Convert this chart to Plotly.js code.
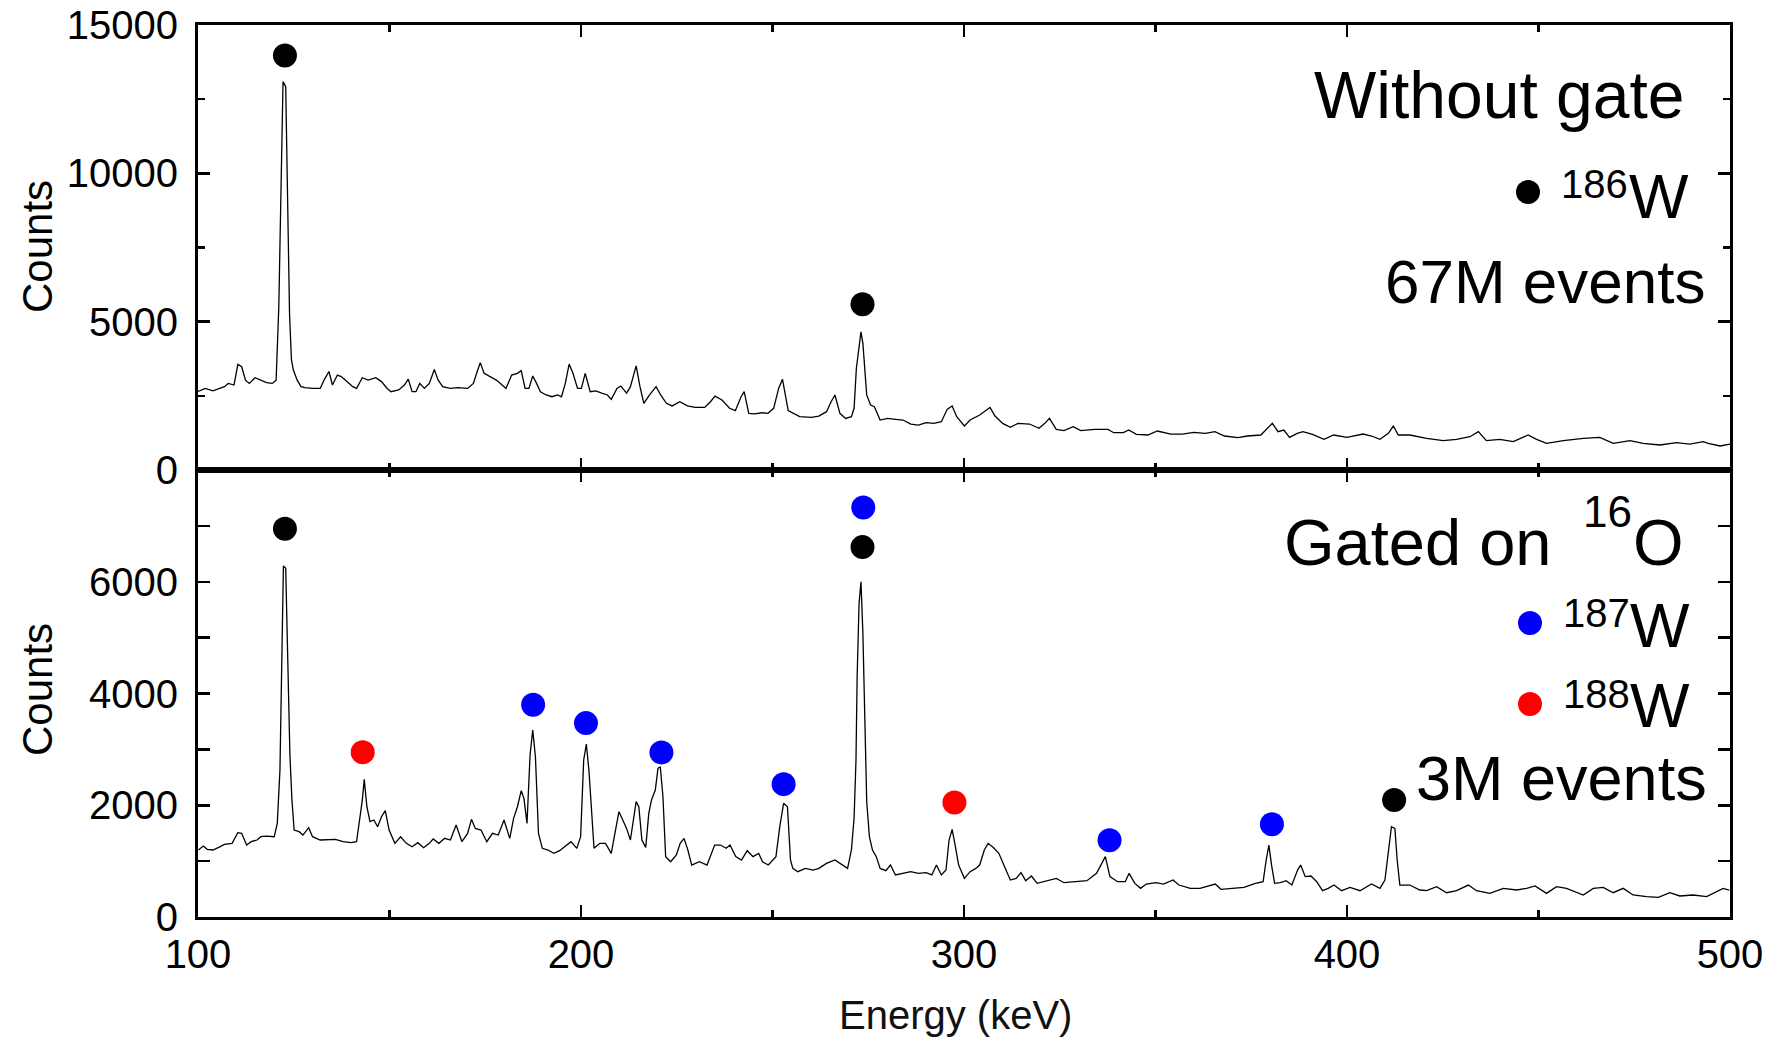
<!DOCTYPE html>
<html>
<head>
<meta charset="utf-8">
<script src="https://cdn.plot.ly/plotly-3.0.1.min.js"></script>
<style>
html,body{margin:0;padding:0;background:#fff;}
#chart{width:1780px;height:1043px;}
</style>
</head>
<body>
<div id="chart"></div>
<script>
// ---------- Data ----------
// Top panel: without gate (energy in keV, counts)
const topEnergy = [100,101.9,103.9,106.9,107.9,109.4,110.4,111.4,112.4,113.4,114.9,116.4,117.9,119.4,120.4,121.1,121.7,122.2,122.9,123.4,123.9,124.4,124.9,125.9,126.9,127.9,129.9,131.9,132.9,134.2,135.1,136.4,137.4,138.9,140.4,141.4,142.9,144.4,146.4,147.9,149.4,150.4,152.4,153.9,154.9,155.9,156.9,157.9,159.1,160.4,161.7,162.7,163.9,165.9,167.9,170.4,171.9,172.9,173.7,174.7,176.4,177.9,179.4,180.4,181.9,183.4,184.4,185.4,186.4,187.4,188.4,189.4,190.9,192.4,193.9,194.9,195.9,196.9,197.9,199.1,200.1,201.1,202.4,203.9,205.4,206.9,207.9,209.4,210.4,211.9,212.9,214.4,215.4,216.4,217.9,219.6,220.8,222.3,223.8,225.8,227.8,229.8,232.3,233.8,235.0,236.8,238.8,240.3,241.8,242.6,243.8,245.3,247.3,248.8,250.3,251.6,252.6,254.1,257.1,260.1,262.1,264.1,265.3,266.3,267.6,269.1,270.6,271.3,271.9,272.6,273.1,273.6,274.1,274.6,275.6,276.6,278.1,280.1,282.1,284.1,286.1,288.1,290.1,292.1,294.1,295.6,296.9,298.1,300.1,301.6,304.1,305.6,306.8,308.1,310.1,312.1,314.1,317.1,319.6,321.1,322.3,324.1,326.1,328.5,330.5,334.1,337.6,339.1,341.6,343.0,345.0,348.0,350.5,354.0,357.0,360.0,363.0,365.5,368.0,371.5,374.0,377.5,379.5,380.5,382.0,383.5,385.0,387.0,388.5,391.0,394.0,396.5,400.0,404.2,406.4,408.6,410.8,412.1,413.4,416.4,420.8,425.1,428.6,432.1,434.3,436.4,439.9,443.4,447.3,449.5,452.1,456.5,461.7,466.0,469.5,473.9,477.3,481.7,486.0,489.5,493.0,494.3,497.4,500];
const topCounts = [2650,2750,2670,2810,2920,2865,3560,3480,3030,2920,3110,3030,2945,2920,3030,5500,9350,13090,12920,8970,5260,3710,3370,3030,2810,2780,2750,2750,3030,3320,2865,3200,3150,2980,2810,2750,3110,3030,3110,2980,2750,2640,2700,2865,3060,2640,2640,2920,2750,2920,3390,3030,2810,2750,2780,2750,2920,3320,3620,3260,3150,3030,2865,2750,3200,3260,3350,2750,2750,3170,2920,2640,2530,2470,2530,2470,2920,3570,3260,2750,2750,3260,2640,2670,2590,2530,2380,2750,2830,2590,2810,3510,2810,2250,2530,2810,2530,2250,2160,2300,2160,2110,2110,2300,2490,2360,2080,2000,2470,2640,1910,1890,1930,1910,2080,2750,3060,2000,1800,1775,1820,1966,2300,2530,1910,1740,1800,2080,3430,4210,4660,4270,3370,2530,2190,2135,1685,1740,1710,1685,1550,1516,1595,1573,1629,2045,2157,1797,1483,1685,1854,2000,2112,1820,1573,1438,1573,1550,1405,1573,1742,1371,1326,1461,1326,1371,1371,1258,1258,1348,1202,1180,1315,1213,1213,1270,1236,1292,1146,1090,1146,1180,1461,1573,1292,1348,1101,1236,1292,1202,1034,1180,1101,1213,1146,1034,1236,1483,1180,1180,1067,989,1034,1123,1292,989,1034,955,1180,1034,899,989,1067,1101,899,989,899,843,921,876,955,899,810,876];

// Bottom panel: gated on 16O
const botEnergy = [100.1,101.4,102.4,103.9,105.4,106.9,108.9,110.4,111.4,112.7,113.9,115.4,116.4,117.9,119.9,120.7,121.4,121.9,122.3,122.9,123.4,124.0,124.5,125.1,126.4,127.4,128.9,129.9,131.9,133.9,135.9,137.9,139.9,141.4,142.1,142.9,143.4,144.1,144.9,145.9,146.9,147.9,148.9,149.9,151.4,152.9,154.4,155.9,157.4,158.9,160.4,161.4,162.9,164.4,165.9,167.4,168.9,170.4,171.4,172.4,173.9,175.4,176.9,178.4,179.9,181.4,182.4,183.4,184.4,185.1,185.9,186.7,187.4,188.1,188.9,189.9,191.4,192.9,194.4,195.9,197.4,198.9,199.9,200.7,201.4,202.1,202.7,203.4,204.9,206.4,207.9,209.1,209.9,210.9,211.9,212.9,213.9,214.4,215.1,215.9,216.9,217.7,218.4,219.4,220.1,220.7,221.4,222.1,223.4,224.9,225.9,226.9,227.9,228.9,230.9,232.9,234.9,236.4,237.9,238.9,240.4,241.9,243.4,244.9,246.4,247.4,248.9,250.9,251.9,252.9,253.9,254.7,255.3,256.6,258.6,260.6,262.1,264.1,266.3,268.1,269.6,270.6,271.3,271.8,272.1,272.6,273.1,273.6,274.1,274.6,275.3,276.1,277.1,278.1,279.6,280.8,282.1,284.1,286.1,288.1,290.1,291.6,292.8,294.1,295.3,296.1,296.9,297.6,298.6,300.1,301.6,303.1,304.1,305.3,306.3,307.6,309.1,310.6,312.1,313.6,314.9,316.1,317.6,319.1,322.1,324.1,326.1,329.1,332.1,334.6,336.1,336.9,338.1,340.1,342.1,343.1,344.6,346.1,347.6,350.1,352.1,354.6,356.1,359.1,361.6,364.1,365.6,367.1,370.1,373.1,376.1,378.1,378.9,379.6,380.3,381.1,382.6,384.1,385.6,387.1,387.9,389.1,390.6,392.1,393.6,395.1,396.6,398.6,400.8,403.4,406.4,408.6,409.9,410.8,411.6,412.5,413.1,413.8,416.4,419.0,420.8,423.4,426.0,428.6,431.7,433.8,437.3,440.8,444.3,446.9,449.1,452.1,454.7,457.3,461.7,464.3,466.9,469.5,472.1,474.7,478.2,481.3,484.3,486.9,490.4,493.9,496.5,498.2,499.8];
const botCounts = [1199,1270,1211,1199,1247,1300,1318,1509,1497,1288,1348,1378,1437,1449,1437,1676,2631,4510,6282,6240,4480,2899,2123,1557,1527,1467,1598,1437,1378,1390,1390,1348,1330,1348,1676,2093,2464,1974,1706,1736,1617,1795,1903,1557,1318,1437,1318,1258,1330,1241,1318,1396,1318,1408,1378,1646,1348,1497,1748,1586,1557,1348,1497,1467,1736,1408,1766,1974,2261,2123,1676,2899,3347,2869,1497,1229,1199,1139,1187,1270,1348,1229,1437,2810,3096,2601,1855,1229,1318,1318,1139,1617,1885,1736,1586,1378,1855,2064,1974,1378,1247,1855,2093,2273,2661,2690,2153,1080,990,1110,1318,1408,1199,930,990,930,1288,1288,1229,1288,1080,1020,1187,1080,1139,990,930,1080,1617,2034,1974,1020,870,811,870,840,870,960,1020,930,870,1199,1766,2810,4301,5614,6001,5077,3346,2064,1437,1199,1080,870,829,930,752,781,811,781,793,752,930,752,840,1378,1569,1318,930,692,811,870,930,1199,1318,1247,1139,900,662,692,793,650,734,602,650,692,614,632,650,781,960,1080,722,632,632,781,602,513,590,614,590,662,572,513,513,555,590,495,513,531,602,632,1020,1288,930,602,614,650,572,840,930,722,734,632,471,513,572,471,531,471,590,513,662,1139,1617,1586,1020,572,572,483,471,543,435,471,572,471,423,513,483,513,555,423,543,513,394,513,531,435,513,394,364,352,435,376,394,364,453,513,483];

// Peak labels (energy, counts at the marker)
const topPeakE = [122.7, 273.5];
const topPeakC = [13970, 5590];
const w186E = [122.7, 273.5, 412.3];
const w186C = [6950, 6620, 2094];
const w187E = [187.5, 201.3, 221.0, 252.9, 273.7, 338.0, 380.4];
const w187C = [3800, 3470, 2945, 2378, 7330, 1372, 1660];
const w188E = [143.0, 297.5];
const w188C = [2948, 2048];

const xTickVals = [100, 200, 300, 400, 500];
const topYTickVals = [0, 5000, 10000, 15000];
const topYTickText = ['0', '5000', '10000', '15000'];
const botYTickVals = [0, 1000, 2000, 3000, 4000, 5000, 6000, 7000, 8000];
const botYTickText = ['0', '', '2000', '', '4000', '', '6000', '', ''];

// ---------- Chart ----------
const FONT = '"Liberation Sans", Arial, Helvetica, sans-serif';
const BLUE = '#0000ff', RED = '#ff0000', BLACK = '#000000';

function lineTrace(x, y, xa, ya) {
  return {x: x, y: y, xaxis: xa, yaxis: ya, type: 'scatter', mode: 'lines',
          line: {color: BLACK, width: 1.3, shape: 'linear'}, hoverinfo: 'skip', showlegend: false};
}
function dotTrace(x, y, color, xa, ya) {
  return {x: x, y: y, xaxis: xa, yaxis: ya, type: 'scatter', mode: 'markers',
          marker: {color: color, size: 24, line: {width: 0}}, hoverinfo: 'skip', showlegend: false};
}

const traces = [
  lineTrace(topEnergy, topCounts, 'x', 'y'),
  lineTrace(botEnergy, botCounts, 'x2', 'y2'),
  dotTrace(topPeakE, topPeakC, BLACK, 'x', 'y'),
  dotTrace(w186E, w186C, BLACK, 'x2', 'y2'),
  dotTrace(w187E, w187C, BLUE, 'x2', 'y2'),
  dotTrace(w188E, w188C, RED, 'x2', 'y2')
];

const axisCommon = {
  showline: true, linecolor: BLACK, linewidth: 3, mirror: 'ticks',
  ticks: 'inside', tickcolor: BLACK, tickwidth: 2.5, ticklen: 12,
  showgrid: false, zeroline: false,
  tickfont: {family: FONT, size: 40, color: BLACK}
};
const minorX = {dtick: 50, tick0: 0, ticks: 'inside', ticklen: 7, tickwidth: 2.5, tickcolor: BLACK, showgrid: false};

const PL = 198, PW = 1532, PB = 917, PH = 892;
const px = v => (v - PL) / PW;
const py = v => (PB - v) / PH;

function ann(text, xr, ymid, size, anchor) {
  return {text: text, xref: 'paper', yref: 'paper', x: px(xr), y: py(ymid),
          xanchor: anchor || 'right', yanchor: 'middle', showarrow: false,
          font: {family: FONT, size: size, color: BLACK}};
}

const layout = {
  width: 1780, height: 1043,
  margin: {l: PL, r: 1780 - PL - PW, t: 25, b: 1043 - PB},
  paper_bgcolor: '#ffffff', plot_bgcolor: '#ffffff',
  showlegend: false,
  xaxis: Object.assign({}, axisCommon, {anchor: 'y', domain: [0, 1], range: [100, 500],
          tickvals: xTickVals, showticklabels: false, minor: minorX}),
  xaxis2: Object.assign({}, axisCommon, {anchor: 'y2', domain: [0, 1], range: [100, 500],
          tickvals: xTickVals, ticklabelstandoff: 0, minor: minorX}),
  yaxis: Object.assign({}, axisCommon, {anchor: 'x', domain: [0.5011, 1], range: [0, 15000],
          tickvals: topYTickVals, ticktext: topYTickText, ticklabelstandoff: 9,
          minor: {dtick: 2500, tick0: 0, ticks: 'inside', ticklen: 7, tickwidth: 2.5, tickcolor: BLACK, showgrid: false}}),
  yaxis2: Object.assign({}, axisCommon, {anchor: 'x2', domain: [0, 0.5011], range: [0, 8000],
          tickvals: botYTickVals, ticktext: botYTickText, ticklabelstandoff: 9}),
  annotations: [
    ann('Without gate', 1687, 118 - 0.35 * 66, 66),
    ann('186', 1630, 198 - 0.35 * 40, 40),
    ann('W', 1691, 218 - 0.35 * 63, 63),
    ann('67M events', 1708, 303 - 0.35 * 62, 62),
    ann('Gated on', 1553, 565 - 0.35 * 65, 65),
    ann('16', 1634, 527 - 0.35 * 44, 44),
    ann('O', 1686, 565 - 0.35 * 65, 65),
    ann('187', 1632, 627 - 0.35 * 40, 40),
    ann('W', 1692, 647 - 0.35 * 63, 63),
    ann('188', 1632, 708 - 0.35 * 40, 40),
    ann('W', 1692, 727 - 0.35 * 63, 63),
    ann('3M events', 1709, 800 - 0.35 * 63, 63),
    {text: 'Counts', xref: 'paper', yref: 'paper', x: px(37), y: py(247), textangle: -90,
     xanchor: 'center', yanchor: 'middle', showarrow: false, font: {family: FONT, size: 42, color: BLACK}},
    {text: 'Counts', xref: 'paper', yref: 'paper', x: px(37), y: py(690), textangle: -90,
     xanchor: 'center', yanchor: 'middle', showarrow: false, font: {family: FONT, size: 42, color: BLACK}},
    {text: 'Energy (keV)', xref: 'paper', yref: 'paper', x: px(955), y: py(1029 - 0.35 * 40),
     xanchor: 'center', yanchor: 'middle', showarrow: false, font: {family: FONT, size: 40, color: '#111111'}}
  ],
  shapes: [
    {type: 'circle', xref: 'paper', yref: 'paper', xsizemode: 'pixel', ysizemode: 'pixel',
     xanchor: px(1528), yanchor: py(192), x0: -12, x1: 12, y0: -12, y1: 12,
     fillcolor: BLACK, line: {width: 0}},
    {type: 'circle', xref: 'paper', yref: 'paper', xsizemode: 'pixel', ysizemode: 'pixel',
     xanchor: px(1530), yanchor: py(623), x0: -12, x1: 12, y0: -12, y1: 12,
     fillcolor: BLUE, line: {width: 0}},
    {type: 'circle', xref: 'paper', yref: 'paper', xsizemode: 'pixel', ysizemode: 'pixel',
     xanchor: px(1530), yanchor: py(704), x0: -12, x1: 12, y0: -12, y1: 12,
     fillcolor: RED, line: {width: 0}}
  ]
};

Plotly.newPlot('chart', traces, layout, {displayModeBar: false, staticPlot: true});
</script>
</body>
</html>
